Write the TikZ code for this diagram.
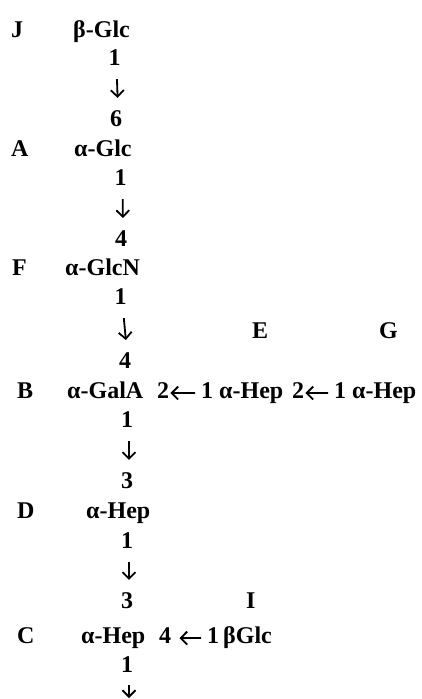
\documentclass[tikz,border=0pt]{standalone}
\usepackage{fontspec}
\setmainfont{Liberation Serif}
\usetikzlibrary{arrows.meta}
\begin{document}
\begin{tikzpicture}[x=1pt,y=-1pt,
  txt/.style={inner sep=0pt, anchor=base west, font=\fontsize{24}{28}\selectfont\bfseries},
  num/.style={inner sep=0pt, anchor=base, font=\fontsize{24}{28}\selectfont\bfseries},
  link/.style={-{Straight Barb[length=6.5pt,width=13pt]}, line width=1.8pt},
  vlink/.style={link, shorten <=14pt, shorten >=12pt}]
\useasboundingbox (0,0) rectangle (422,699);
% main chain
\node[txt] (lJ) at (11,37) {J};
\node[txt] (sJ) at (73,37) {β-Glc};
\node[num] (j1) at (114.5,65) {1};
\node[num] (a6) at (116,126) {6};
\node[txt] (lA) at (11,156) {A};
\node[txt] (sA) at (74,156) {α-Glc};
\node[num] (a1) at (120.5,185) {1};
\node[num] (f4) at (121,246) {4};
\node[txt] (lF) at (12,275) {F};
\node[txt] (sF) at (65,275) {α-GlcN};
\node[num] (f1) at (120.5,304) {1};
\node[txt] (lE) at (252,338) {E};
\node[txt] (lG) at (379,338) {G};
\node[num] (b4) at (125,368) {4};
\node[txt] (lB) at (17,398) {B};
\node[txt] (sB) at (67,398) {α-GalA};
\node[txt] (b2) at (157,398) {2};
\node[txt] (e1) at (201,398) {1};
\node[txt] (sE) at (219,398) {α-Hep};
\node[txt] (e2) at (292,398) {2};
\node[txt] (g1) at (334,398) {1};
\node[txt] (sG) at (352,398) {α-Hep};
\node[num] (b1) at (127,427) {1};
\node[num] (d3) at (127,488) {3};
\node[txt] (lD) at (17,518) {D};
\node[txt] (sD) at (86,518) {α-Hep};
\node[num] (d1) at (127,548) {1};
\node[num] (c3) at (127,608) {3};
\node[txt] (lI) at (246,608) {I};
\node[txt] (lC) at (17,643) {C};
\node[txt] (sC) at (81,643) {α-Hep};
\node[txt] (c4) at (159,643) {4};
\node[txt] (i1) at (207,643) {1};
\node[txt] (sI) at (223,643) {βGlc};
\node[num] (c1) at (127,672) {1};
\coordinate (cend) at (129,698);
% vertical linkages
\draw[vlink] ([xshift=2pt]j1.south) -- ([xshift=2pt]a6.north);
\draw[vlink] ([xshift=2pt]a1.south) -- ([xshift=2pt]f4.north);
\draw[vlink] ([xshift=2pt]f1.south) -- ([xshift=2pt]b4.north);
\draw[vlink] ([xshift=2pt]b1.south) -- ([xshift=2pt]d3.north);
\draw[vlink] ([xshift=2pt]d1.south) -- ([xshift=2pt]c3.north);
\draw[link, shorten <=13pt] ([xshift=2pt]c1.south) -- (cend);
% horizontal linkages
\draw[link, shorten <=6pt, shorten >=1pt] ([yshift=-3pt]e1.west) -- ([yshift=-3pt]b2.east);
\draw[link, shorten <=6pt, shorten >=1pt] ([yshift=-3pt]g1.west) -- ([yshift=-3pt]e2.east);
\draw[link, shorten <=6pt, shorten >=8pt] ([yshift=-3pt]i1.west) -- ([yshift=-3pt]c4.east);
\end{tikzpicture}
\end{document}
